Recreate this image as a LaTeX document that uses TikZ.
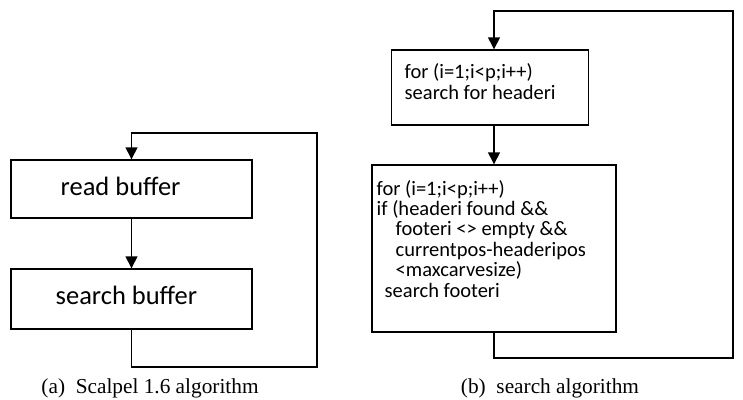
\documentclass[tikz,border=0pt]{standalone}
\usepackage{fontspec}
\setmainfont{Carlito}
\newfontfamily\capfont{Liberation Serif}
\usetikzlibrary{arrows.meta}
\begin{document}
\begin{tikzpicture}[x=1pt,y=-1pt,line width=1.4pt,
  box/.style={draw,line width=1.4pt,inner sep=0pt},
  txt/.style={inner sep=0pt,anchor=base west,align=left},
  bigtxt/.style={txt,font=\fontsize{26.5}{30}\selectfont},
  toptxt/.style={txt,font=\fontsize{20.5}{21.5}\selectfont},
  smalltxt/.style={txt,font=\fontsize{20.5}{20.4}\selectfont},
  captxt/.style={inner sep=0pt,anchor=base,font=\capfont\fontsize{21.3}{24}\selectfont},
  arr/.style={-{Triangle[width=12pt,length=12pt]}}]
\useasboundingbox (0,0) rectangle (743,399);
% left figure
\node[box,minimum width=241pt,minimum height=58pt] (rb) at (131.5,189) {};
\node[box,minimum width=241pt,minimum height=60pt] (sb) at (131.5,299) {};
\node[bigtxt] (rbt) at (60,195) {read buffer};
\node[bigtxt] (sbt) at (55,304) {search buffer};
\draw[arr] (rb.south) -- (sb.north);
\coordinate (lbot) at (317,367);
\coordinate (ltop) at (317,133);
\draw[arr] (sb.south) |- (lbot) -- (ltop) -| (rb.north);
\node[captxt] (capa) at (150,393) {(a)\ \ Scalpel 1.6 algorithm};
% right figure
\node[box,minimum width=197pt,minimum height=75pt] (hb) at (490,87.5) {};
\node[box,minimum width=244pt,minimum height=167pt] (fb) at (494,248.5) {};
\node[toptxt] (hbt) at (404,99.5) {for (i=1;i<p;i++)\\search for headeri};
\node[smalltxt] (fbt) at (376,297) {for (i=1;i<p;i++)\\if (headeri found \&\&\\\hspace*{19pt}footeri <> empty \&\&\\\hspace*{19pt}currentpos-headeripos\\\hspace*{19pt}<maxcarvesize)\\\hspace*{8pt}search footeri};
\draw[arr] (fb.north |- hb.south) -- (fb.north);
\coordinate (rbot) at (733,358);
\coordinate (rtop) at (733,11);
\draw[arr] (fb.south) |- (rbot) -- (rtop) -| (fb.north |- hb.north);
\node[captxt] (capb) at (550,393) {(b)\ \ search algorithm};
\end{tikzpicture}
\end{document}
